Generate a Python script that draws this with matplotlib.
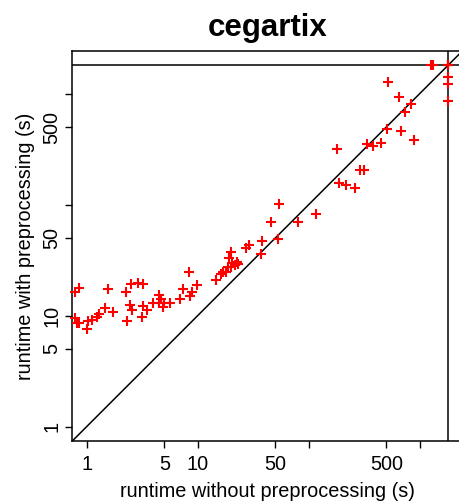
"""
cegartix: runtime with vs. without preprocessing (log-log scatter)
"""
import matplotlib
matplotlib.use("Agg")
import matplotlib.pyplot as plt
import matplotlib.ticker as mticker
import numpy as np

plt.rcParams["font.family"] = ["Liberation Sans", "DejaVu Sans"]

TITLE = "cegartix"
X_LABEL = "runtime without preprocessing (s)"
Y_LABEL = "runtime with preprocessing (s)"
TIMEOUT = 1800

# runtimes (s)
t_without = [
    0.785, 0.858, 1.57, 2.26, 2.51, 2.92, 3.24, 1.46, 1.74, 1.30,
    1.23, 1.03, 1.11, 0.785, 0.823, 0.858, 1.01, 2.46, 2.54, 2.32,
    3.24, 3.13, 3.47, 3.98, 4.51, 4.97, 5.63, 4.84, 4.51, 4.64,
    8.35, 9.8, 8.83, 7.32, 8.52, 6.93, 14.6, 16.1, 17.0, 17.9,
    19.3, 19.8, 20.4, 22.5, 18.9, 21.7, 23.2, 19.95, 27.1, 29.2,
    37.7, 37.2, 52.6, 45.5, 54.0, 79.6, 116, 189, 216, 261,
    290, 317, 179, 333, 382, 448, 511, 683, 894, 741,
    830, 655, 515, 1257, 1310, 1800, 1800, 1800, 1800, 1800,
    1800,
]
t_with = [
    16.4, 17.7, 17.3, 16.4, 19.2, 19.8, 19.2, 11.8, 10.7, 10.4,
    9.67, 9.02, 9.15, 9.48, 8.65, 8.54, 7.54, 12.5, 11.3, 9.02,
    12.2, 9.80, 11.3, 12.9, 12.9, 12.9, 12.9, 12.05, 15.4, 14.05,
    24.6, 18.9, 16.4, 17.3, 15.1, 14.05, 21.0, 23.8, 24.9, 24.9,
    32.9, 37.7, 30.0, 30.6, 27.6, 28.6, 29.2, 27.3, 40.5, 43.3,
    47.4, 35.7, 49.1, 69.4, 100.9, 70.3, 82.5, 158, 150, 142,
    205, 205, 316, 350, 340, 357, 478, 461, 383, 680,
    807, 929, 1283, 1800, 1800, 1800, 1800, 1800, 1423, 1216,
    865,
]

tick_values = [1, 5, 10, 50, 100, 500, 1000]
tick_labels = ["1", "5", "10", "50", "", "500", ""]

FS = 14.3

fig = plt.figure(figsize=(4.59, 5.04), dpi=100, facecolor="white")
ax = fig.add_axes([0.1575, 0.125, 0.850, 0.774])
ax.set_xscale("log")
ax.set_yscale("log")

# R-style 4% padding around [1, timeout] in log space
lo, hi = np.log10(1), np.log10(TIMEOUT)
pad = 0.04 * (hi - lo)
lims = (10 ** (lo - pad), 10 ** (hi + pad))
ax.set_xlim(lims)
ax.set_ylim(lims)

ax.axline((1, 1), (TIMEOUT, TIMEOUT), color="black", linewidth=1.1)
ax.axhline(TIMEOUT, color="black", linewidth=1.1)
ax.axvline(TIMEOUT, color="black", linewidth=1.1)

ax.plot(t_without, t_with, linestyle="none", marker="+", markersize=7,
        markeredgewidth=1.5, color="red", clip_on=False, zorder=3)

for axis in (ax.xaxis, ax.yaxis):
    axis.set_major_locator(mticker.FixedLocator(tick_values))
    axis.set_major_formatter(mticker.FixedFormatter(tick_labels))
    axis.set_minor_locator(mticker.NullLocator())

ax.tick_params(axis="both", direction="out", length=5, width=1,
               labelsize=FS, colors="black")
ax.tick_params(axis="x", pad=5)
ax.tick_params(axis="y", pad=3)
for lbl in ax.get_yticklabels():
    lbl.set_rotation(90)
    lbl.set_va("center")

for sp in ax.spines.values():
    sp.set_linewidth(1.1)

ax.set_xlabel(X_LABEL, fontsize=FS, labelpad=6)
ax.set_ylabel(Y_LABEL, fontsize=FS, labelpad=5)
ax.set_title(TITLE, fontsize=22.5, fontweight="bold", pad=11)

fig.savefig("out.png", dpi=100, facecolor="white")
plt.close(fig)
